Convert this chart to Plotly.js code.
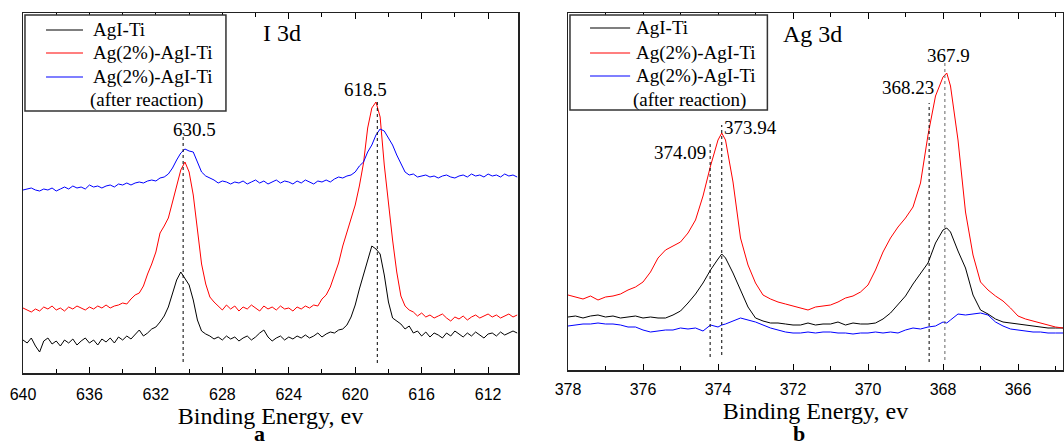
<!DOCTYPE html>
<html>
<head>
<meta charset="utf-8">
<script src="https://cdn.plot.ly/plotly-3.0.1.min.js"></script>
<style>html,body{margin:0;padding:0;background:#fff;}#chart{width:1064px;height:447px;}</style>
</head>
<body>
<div id="chart"></div>
<script>
// ---------- Panel a : I 3d ----------
const energyA = [
640,639.75,639.5,639.25,639,638.75,638.5,638.25,638,637.75,
637.5,637.25,637,636.75,636.5,636.25,636,635.75,635.5,635.25,
635,634.75,634.5,634.25,634,633.75,633.5,633.25,633,632.75,
632.5,632.25,632,631.75,631.5,631.25,631,630.75,630.5,630.25,
630,629.75,629.5,629.25,629,628.75,628.5,628.25,628,627.75,
627.5,627.25,627,626.75,626.5,626.25,626,625.75,625.5,625.25,
625,624.75,624.5,624.25,624,623.75,623.5,623.25,623,622.75,
622.5,622.25,622,621.75,621.5,621.25,621,620.75,620.5,620.25,
620,619.75,619.5,619.25,619,618.75,618.5,618.25,618,617.75,
617.5,617.25,617,616.75,616.5,616.25,616,615.75,615.5,615.25,
615,614.75,614.5,614.25,614,613.75,613.5,613.25,613,612.75,
612.5,612.25,612,611.75,611.5,611.25,611,610.75,610.5,610.25];

const agiTiA = [
60,57,62,54,48,59,62,56,59,54,
60,57,61,55,59,62,57,60,55,61,
58,62,57,63,60,64,61,66,70,64,
67,71,73,78,84,93,107,120,128,122,
115,100,80,69,66,64,61,63,60,64,
61,63,59,62,64,60,63,67,70,63,
59,62,64,60,63,61,64,62,65,62,
64,67,63,66,68,67,70,71,75,83,
95,111,125,138,154,151,146,125,98,82,
79,76,71,74,67,69,64,68,63,67,
65,62,67,64,69,66,63,67,64,68,
65,62,66,67,64,68,65,67,69,67];

const ag2A = [
92,90,88,91,89,93,91,94,90,92,
89,93,91,94,92,90,93,91,94,92,
95,92,94,95,97,96,101,105,107,114,
126,136,148,167,174,182,198,214,230,238,
228,205,172,136,116,103,98,94,90,95,
91,94,89,93,91,95,92,89,94,91,
93,90,94,91,92,89,93,91,94,92,
95,94,101,105,113,124,137,154,168,180,
195,214,237,272,292,298,283,235,195,160,
128,104,94,90,88,84,87,83,85,82,
84,86,82,79,83,81,84,80,83,85,
82,84,86,83,85,82,84,86,83,85];

const ag2AfterA = [
210,211,212,210,209,211,210,212,209,211,
213,211,214,212,213,211,215,213,214,212,
214,215,213,216,215,217,215,217,218,217,
219,220,219,222,223,226,232,240,247,251,
249,248,238,228,224,222,220,217,219,218,
216,218,217,219,216,218,220,217,219,216,
218,220,217,219,218,216,219,217,220,218,
216,219,218,220,218,221,223,222,224,225,
228,234,238,248,255,265,271,269,262,255,
245,237,228,225,226,223,224,225,223,224,
222,224,225,223,222,224,225,223,226,224,
225,223,226,224,225,223,226,224,225,223];

const peakLineA_E = [630.36, 618.67];
const peakLineA_top = [267, 300];
const peakLineA_bottom = [38, 37];
const peakLabelA = ["630.5", "618.5"];

// ---------- Panel b : Ag 3d ----------
const energyB = [
378.0,377.8,377.6,377.4,377.2,377.0,376.8,376.6,376.4,376.2,
376.0,375.8,375.6,375.4,375.2,375.0,374.8,374.6,374.4,374.2,
374.0,373.9,373.8,373.6,373.4,373.2,373.0,372.8,372.6,372.4,
372.2,372.0,371.8,371.6,371.4,371.2,371.0,370.8,370.6,370.4,
370.2,370.0,369.8,369.6,369.4,369.2,369.0,368.8,368.6,368.4,
368.2,368.0,367.9,367.8,367.6,367.4,367.2,367.0,366.8,366.6,
366.4,366.2,366.0,365.8,365.6,365.4,365.2,365.0,364.8];

const agiTiB = [
83,84,82,84,85,83,84,82,83,84,
82,83,82,82,85,89,97,106,117,130,
141,146,142,127,110,93,82,79,77,77,
76,75,75,77,75,76,76,78,75,77,
76,76,77,81,87,95,104,116,126,137,
157,170,172,168,149,132,105,90,86,81,
78,77,76,75,74,73,72,72,72];

const ag2B = [
105,103,101,104,100,103,104,106,110,113,
118,128,142,150,154,158,167,180,204,234,
260,267,260,218,162,135,117,105,101,98,
96,94,92,90,93,94,95,98,102,104,
108,115,130,148,162,173,182,193,217,265,
304,323,327,314,260,188,145,118,110,104,
99,92,84,81,79,77,75,73,72];

const ag2AfterB = [
74,75,76,76,77,76,76,75,73,73,
70,68,69,70,70,72,71,72,69,75,
73,75,76,79,82,80,78,75,72,70,
68,67,67,68,67,68,68,67,67,66,
67,67,68,67,68,67,70,72,71,73,
74,78,77,80,86,85,86,87,85,78,
74,71,70,69,68,68,67,67,67];

const peakLineB_E = [374.21, 373.90, 368.37, 367.95];
const peakLineB_top = [258, 275, 297, 337];
const peakLineB_bottom = [43, 45, 38, 40];
const peakLineB_color = ["#000", "#000", "#000", "#666"];

const seriesNames = ["AgI-Ti", "Ag(2%)-AgI-Ti", "Ag(2%)-AgI-Ti"];
const seriesColors = ["#000000", "#ff0000", "#0000ff"];

const SERIF = "Liberation Serif, Times New Roman, serif";
const SANS = "Liberation Sans, Arial, sans-serif";

const traces = [];
function addSeries(xs, ys, idx, xa, ya) {
  traces.push({x: xs, y: ys, type: "scatter", mode: "lines", name: seriesNames[idx],
    xaxis: xa, yaxis: ya, line: {color: seriesColors[idx], width: 1}, showlegend: false, hoverinfo: "skip"});
}
addSeries(energyA, agiTiA, 0, "x", "y");
addSeries(energyA, ag2A, 1, "x", "y");
addSeries(energyA, ag2AfterA, 2, "x", "y");
addSeries(energyB, agiTiB, 0, "x2", "y2");
addSeries(energyB, ag2B, 1, "x2", "y2");
addSeries(energyB, ag2AfterB, 2, "x2", "y2");

for (let i = 0; i < peakLineA_E.length; i++) {
  traces.push({x: [peakLineA_E[i], peakLineA_E[i]], y: [peakLineA_bottom[i], peakLineA_top[i]],
    type: "scatter", mode: "lines", xaxis: "x", yaxis: "y", showlegend: false, hoverinfo: "skip",
    line: {color: "#000", width: 1, dash: "dot"}});
}
for (let i = 0; i < peakLineB_E.length; i++) {
  traces.push({x: [peakLineB_E[i], peakLineB_E[i]], y: [peakLineB_bottom[i], peakLineB_top[i]],
    type: "scatter", mode: "lines", xaxis: "x2", yaxis: "y2", showlegend: false, hoverinfo: "skip",
    line: {color: peakLineB_color[i], width: 1, dash: "dot"}});
}

const annotations = [];
const shapes = [];
function txt(text, x, y, xref, yref, size, xanchor, yanchor) {
  annotations.push({text: text, x: x, y: y, xref: xref, yref: yref, showarrow: false,
    xanchor: xanchor || "center", yanchor: yanchor || "middle", borderpad: 0,
    font: {family: SERIF, size: size, color: "#000"}});
}
// peak labels
txt(peakLabelA[0], 629.66, 271, "x", "y", 19);
txt(peakLabelA[1], 619.40, 311, "x", "y", 19);
txt("374.09", 374.29, 248, "x2", "y2", 19, "right");
txt("373.94", 373.88, 273, "x2", "y2", 19, "left");
txt("368.23", 368.21, 313, "x2", "y2", 19, "right");
txt("367.9", 367.85, 345, "x2", "y2", 19);
// panel titles
txt("I 3d", 624.40, 367, "x", "y", 24);
txt("Ag 3d", 371.49, 366, "x2", "y2", 24);
// panel letters
txt("<b>a</b>", 259/1064, 0, "paper", "paper", 22, "center", "bottom");
txt("<b>b</b>", 799/1064, 0, "paper", "paper", 22, "center", "bottom");

// legends drawn in each panel's domain
function legend(xd, yd, box, lineX, rows, textX, afterX, afterY) {
  shapes.push({type: "rect", xref: xd, yref: yd, x0: box[0], x1: box[1], y0: box[2], y1: box[3],
    line: {color: "#333", width: 1.5}, fillcolor: "#fff", layer: "above"});
  for (let i = 0; i < 3; i++) {
    shapes.push({type: "line", xref: xd, yref: yd, x0: lineX[0], x1: lineX[1], y0: rows[i], y1: rows[i],
      line: {color: seriesColors[i], width: 1.2}, layer: "above"});
    txt(seriesNames[i], textX, rows[i], xd, yd, 19, "left");
  }
  txt("(after reaction)", afterX, afterY, xd, yd, 19, "left");
}
legend("x domain", "y domain", [0.004, 0.410, 0.9944, 0.7278], [0.0465, 0.1212],
  [0.9528, 0.8889, 0.8222], 0.139, 0.133, 0.7583);
legend("x2 domain", "y2 domain", [0.004, 0.4028, 0.9944, 0.7283], [0.0445, 0.1255],
  [0.9580, 0.8880, 0.8235], 0.136, 0.130, 0.7563);

function xAxis(domain, range, tick0, dtick, minor, anchor, labelPad) {
  return {domain: domain, range: range, anchor: anchor, tick0: tick0, dtick: dtick,
    ticks: "inside", ticklen: 6, tickwidth: 1, tickcolor: "#000", ticklabelstandoff: labelPad,
    minor: {dtick: minor, ticks: "inside", ticklen: 4, tickwidth: 1, tickcolor: "#000"},
    showline: true, linecolor: "#222", linewidth: 1.5, mirror: "ticks",
    showgrid: false, zeroline: false, automargin: false,
    tickfont: {family: SANS, size: 16, color: "#000"},
    title: {text: "Binding Energy, ev", font: {family: SERIF, size: 24, color: "#000"}, standoff: 0}};
}
function yAxis(domain, range, anchor) {
  return {domain: domain, range: range, anchor: anchor, showline: true, mirror: true, linecolor: "#222", linewidth: 1.5,
    showticklabels: false, ticks: "", showgrid: false, zeroline: false, automargin: false};
}

const layout = {
  width: 1064, height: 447,
  margin: {l: 0, r: 0, t: 0, b: 0},
  paper_bgcolor: "#fff", plot_bgcolor: "#fff",
  showlegend: false,
  font: {family: SERIF},
  xaxis: xAxis([23/1064, 518/1064], [640, 610.2], 640, 4, 2, "y", 6),
  yaxis: yAxis([(447-373)/447, (447-13)/447], [27, 387], "x"),
  xaxis2: xAxis([568/1064, 1063/1064], [378, 364.8], 378, 2, 1, "y2", 4),
  yaxis2: yAxis([(447-370)/447, (447-13)/447], [30, 387], "x2"),
  annotations: annotations,
  shapes: shapes
};

Plotly.newPlot("chart", traces, layout, {displayModeBar: false, staticPlot: true});
</script>
</body>
</html>
